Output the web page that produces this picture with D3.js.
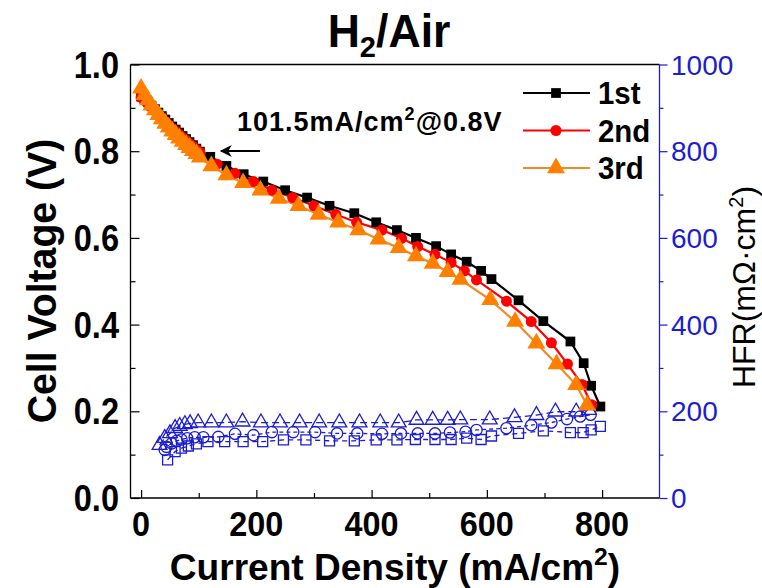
<!DOCTYPE html>
<html><head><meta charset="utf-8">
<script src="https://cdn.jsdelivr.net/npm/d3@7"></script>
<style>body{margin:0;background:#fff}svg{display:block}</style>
</head><body><svg id="c" width="762" height="588"></svg>
<script>
// ---- data ----
const xTicks = [0, 200, 400, 600, 800];
const yTicks = [0.0, 0.2, 0.4, 0.6, 0.8, 1.0];
const hfrTicks = [0, 200, 400, 600, 800, 1000];
const seriesNames = ["1st", "2nd", "3rd"];

const run1I = [0,6,12,18,24,30,36,42,48,54,60,66,72,78,84,90,96,102,120,148,178,212,250,288,327,370,408,444,477,512,538,565,590,608,655,698,745,768,781,797];
const run1V = [0.926,0.920,0.913,0.905,0.897,0.889,0.881,0.873,0.865,0.857,0.850,0.843,0.835,0.828,0.821,0.814,0.806,0.799,0.787,0.766,0.747,0.730,0.710,0.693,0.674,0.657,0.636,0.618,0.600,0.581,0.562,0.545,0.524,0.505,0.456,0.408,0.361,0.311,0.259,0.211];

const run2I = [0,6,12,18,24,30,36,42,48,54,60,66,72,78,84,90,96,102,132,163,195,227,263,300,338,374,418,452,480,510,538,561,582,634,677,712,740,765,782];
const run2V = [0.924,0.917,0.909,0.901,0.893,0.885,0.877,0.869,0.861,0.853,0.846,0.839,0.832,0.825,0.818,0.811,0.804,0.797,0.770,0.749,0.730,0.710,0.693,0.674,0.654,0.636,0.618,0.599,0.580,0.562,0.543,0.524,0.503,0.454,0.407,0.358,0.309,0.262,0.215];

const run3I = [0,6,12,18,24,30,36,42,48,54,60,66,72,78,84,90,96,102,122,148,177,207,239,273,308,342,377,412,447,477,506,532,554,606,649,686,721,755,774];
const run3V = [0.945,0.930,0.918,0.906,0.895,0.884,0.874,0.864,0.855,0.846,0.838,0.830,0.822,0.815,0.808,0.801,0.794,0.786,0.766,0.745,0.727,0.710,0.691,0.674,0.654,0.636,0.618,0.597,0.577,0.558,0.541,0.522,0.504,0.457,0.407,0.357,0.309,0.261,0.214];

const hfr1I = [46,59,70,82,96,116,145,177,211,247,286,327,370,408,444,476,510,538,565,590,608,655,698,745,767,781,797];
const hfr1R = [88,107,115,120,125,130,130,130,130,134,134,132,132,134,134,135,135,135,138,135,143,149,155,151,151,157,165];

const hfr2I = [41,44,53,62,70,80,93,108,134,163,195,227,264,302,340,375,418,451,480,510,536,563,582,634,677,712,739,762,780];
const hfr2R = [111,118,126,132,135,138,140,140,141,148,145,152,152,152,149,149,148,149,149,149,151,153,157,161,168,174,182,188,192];

const hfr3I = [32,41,50,59,67,76,85,99,122,148,176,208,241,275,309,344,379,415,447,478,506,532,554,605,648,686,719,755,777];
const hfr3R = [122,138,149,161,166,170,172,174,174,174,176,174,174,174,174,174,174,174,174,180,180,180,181,181,186,191,199,199,203];

// ---- layout ----
const svg = d3.select("#c");
const L = 130.5, R = 659.5, T = 64.5, B = 498;
const x = d3.scaleLinear().domain([-18.4, 899.6]).range([L, R]);
const y = d3.scaleLinear().domain([0, 1]).range([B, T]);
const yr = d3.scaleLinear().domain([0, 1000]).range([B, T]);
const BLUE = "#1c1cd0";
const FONT = "'Liberation Sans', Arial, sans-serif";

function txt(xp, yp, s, opt) {
  const tr = `translate(${xp},${yp})` + (opt.rot ? ` rotate(${opt.rot})` : "") + ` scale(${opt.sx||1},1)`;
  const g = svg.append("g").attr("transform", tr);
  const t = g.append("text").attr("x", 0).attr("y", 0)
    .attr("font-family", FONT).attr("font-size", opt.size)
    .attr("font-weight", opt.bold ? "bold" : "normal")
    .attr("fill", opt.fill || "#000")
    .attr("letter-spacing", opt.ls || 0)
    .attr("text-anchor", opt.anchor || "start");
  return t.text(s);
}

// frame
svg.append("line").attr("x1", L).attr("x2", R).attr("y1", T).attr("y2", T).attr("stroke", "#000").attr("stroke-width", 1.3);
svg.append("line").attr("x1", L).attr("x2", L).attr("y1", T).attr("y2", B).attr("stroke", "#000").attr("stroke-width", 1.3);
svg.append("line").attr("x1", L).attr("x2", R).attr("y1", B).attr("y2", B).attr("stroke", "#000").attr("stroke-width", 1.3);
svg.append("line").attr("x1", R).attr("x2", R).attr("y1", T).attr("y2", B).attr("stroke", BLUE).attr("stroke-width", 1.3);

// axes (ticks via d3 axes)
const gx = svg.append("g").attr("transform", `translate(0,${B})`)
  .call(d3.axisTop(x).tickValues(d3.range(0, 900, 100)).tickSize(8).tickFormat(""));
gx.select(".domain").remove();
gx.selectAll(".tick line").attr("stroke", "#000").attr("stroke-width", 1.2)
  .attr("y2", d => d % 200 === 0 ? -8 : -5);

const gy = svg.append("g").attr("transform", `translate(${L},0)`)
  .call(d3.axisRight(y).tickValues(d3.range(0, 1.0001, 0.1)).tickSize(9).tickFormat(""));
gy.select(".domain").remove();
gy.selectAll(".tick line").attr("stroke", "#000").attr("stroke-width", 1.2)
  .attr("x2", (d, i) => i % 2 === 0 ? 9 : 5);

const gr = svg.append("g").attr("transform", `translate(${R},0)`)
  .call(d3.axisRight(yr).tickValues(d3.range(0, 1001, 100)).tickSize(8).tickFormat(""));
gr.select(".domain").remove();
gr.selectAll(".tick line").attr("stroke", BLUE).attr("stroke-width", 1.2)
  .attr("x2", (d, i) => i % 2 === 0 ? 8 : 4);

// tick labels
xTicks.forEach(v => txt(x(v), 536, String(v), {size: 36, bold: true, anchor: "middle", sx: 0.9}));
yTicks.forEach(v => txt(119, y(v) + 13, v.toFixed(1), {size: 37, bold: true, anchor: "end", sx: 0.88}));
hfrTicks.forEach(v => txt(671, yr(v) + 10, String(v), {size: 28, anchor: "start", fill: BLUE, sx: 1.0}));

// axis titles
const xt = txt(395, 580, "", {size: 36, bold: true, anchor: "middle", sx: 1.03});
xt.append("tspan").text("Current Density (mA/cm");
xt.append("tspan").attr("font-size", 24).attr("dy", -15).text("2");
xt.append("tspan").attr("dy", 15).text(")");

txt(56, 281, "Cell Voltage (V)", {size: 40, bold: true, anchor: "middle", rot: -90, sx: 0.98});
const rt = txt(755, 287, "", {size: 32, anchor: "middle", rot: -90, sx: 1.0});
rt.append("tspan").text("HFR(m\u03A9\u00B7cm");
rt.append("tspan").attr("font-size", 20).attr("dy", -12).text("2");
rt.append("tspan").attr("dy", 12).text(")");

// title
const tt = txt(389, 47, "", {size: 46, bold: true, anchor: "middle", sx: 0.97});
tt.append("tspan").text("H");
tt.append("tspan").attr("font-size", 30).attr("dy", 10).text("2");
tt.append("tspan").attr("dy", -10).text("/Air");

// HFR series (blue open markers)
const line = (xs, ys, sc) => d3.line().x((d, i) => x(xs[i])).y((d, i) => sc(ys[i]));
const hfrSets = [
  {I: hfr1I, R: hfr1R, sym: d3.symbolSquare, size: 100, dash: "5,4"},
  {I: hfr2I, R: hfr2R, sym: d3.symbolCircle, size: 100, dash: "4,3"},
  {I: hfr3I, R: hfr3R, sym: d3.symbolTriangle, size: 95, dash: "7,4"}
];
hfrSets.forEach(s => {
  svg.append("path").attr("d", line(s.I, s.R, yr)(s.I)).attr("fill", "none")
    .attr("stroke", BLUE).attr("stroke-width", 1.3).attr("stroke-dasharray", s.dash);
  svg.selectAll(null).data(s.I).enter().append("path")
    .attr("d", d3.symbol().type(s.sym).size(s.size))
    .attr("transform", (d, i) => `translate(${x(d)},${yr(s.R[i])})`)
    .attr("fill", "none").attr("stroke", BLUE).attr("stroke-width", 1.3);
});

// polarization curves
const runs = [
  {I: run1I, V: run1V, sym: d3.symbolSquare, size: 95, line: "#000", fill: "#000"},
  {I: run2I, V: run2V, sym: d3.symbolCircle, size: 95, line: "#ff0000", fill: "#ff0000"},
  {I: run3I, V: run3V, sym: d3.symbolTriangle, size: 140, line: "#f08a24", fill: "#ff8000"}
];
runs.forEach(s => {
  svg.append("path").attr("d", line(s.I, s.V, y)(s.I)).attr("fill", "none")
    .attr("stroke", s.line).attr("stroke-width", 2.2);
});
runs.forEach(s => {
  svg.selectAll(null).data(s.I).enter().append("path")
    .attr("d", d3.symbol().type(s.sym).size(s.size))
    .attr("transform", (d, i) => `translate(${x(d)},${y(s.V[i])})`)
    .attr("fill", s.fill);
});

// legend
runs.forEach((s, i) => {
  const ly = 93 + i * 37.5;
  svg.append("line").attr("x1", 523).attr("x2", 590).attr("y1", ly).attr("y2", ly)
    .attr("stroke", s.line).attr("stroke-width", 2.2);
  svg.append("path").attr("d", d3.symbol().type(s.sym).size(s.size))
    .attr("transform", `translate(556,${ly})`).attr("fill", s.fill);
  txt(598, ly + 11, seriesNames[i], {size: 31, bold: true, sx: 0.95});
});

// annotation
const at = txt(237, 131, "", {size: 27, bold: true, ls: 1});
at.append("tspan").text("101.5mA/cm");
at.append("tspan").attr("font-size", 18).attr("dy", -11).text("2");
at.append("tspan").attr("dy", 11).text("@0.8V");
svg.append("defs").append("marker").attr("id", "ah").attr("viewBox", "0 0 10 10")
  .attr("refX", 9).attr("refY", 5).attr("markerWidth", 14).attr("markerHeight", 12)
  .attr("markerUnits", "userSpaceOnUse")
  .attr("orient", "auto").append("path").attr("d", "M0,0 L10,5 L0,10 L3,5 Z").attr("fill", "#000");
svg.append("line").attr("x1", 260).attr("x2", 221).attr("y1", 151).attr("y2", 151)
  .attr("stroke", "#000").attr("stroke-width", 1.8).attr("marker-end", "url(#ah)");
</script></body></html>
